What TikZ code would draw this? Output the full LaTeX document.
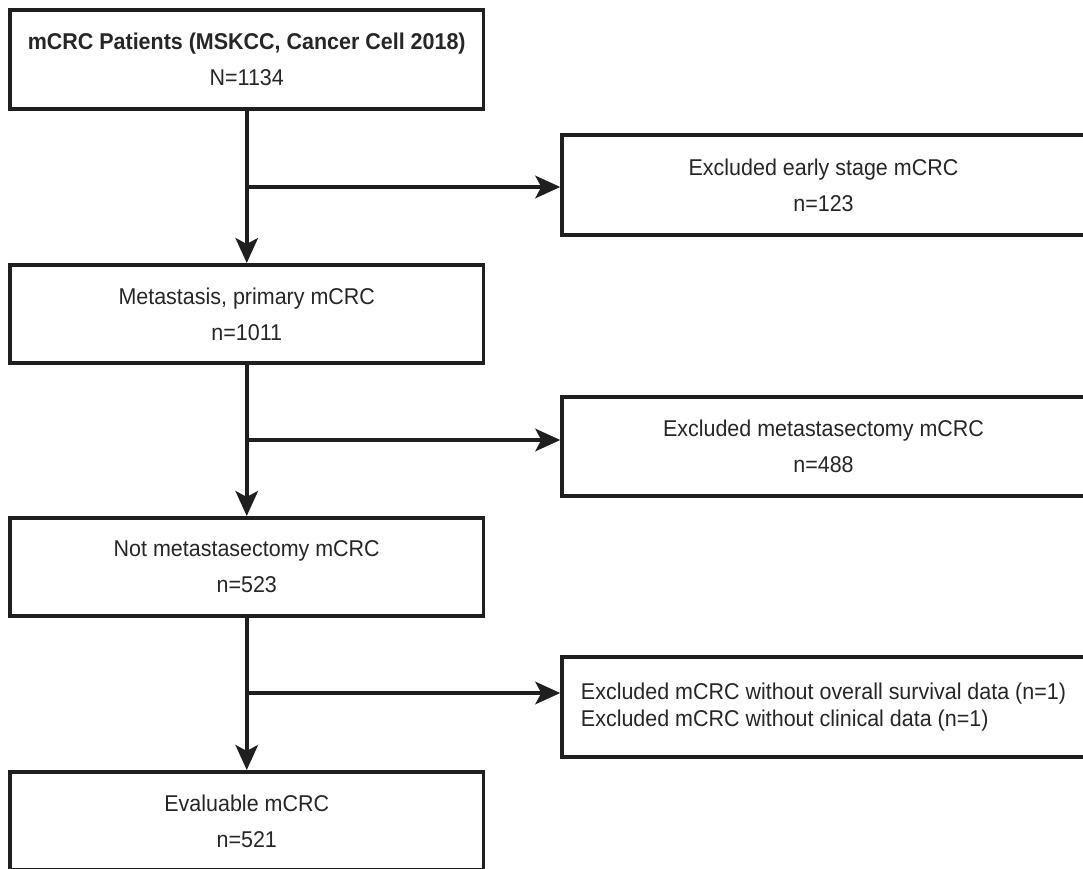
\documentclass[tikz,border=0pt]{standalone}
\usepackage{fontspec}
\setmainfont{Liberation Sans}[FakeStretch=0.94]
\usetikzlibrary{arrows.meta}

\begin{document}
\begin{tikzpicture}[x=0.02cm, y=-0.02cm, >={Stealth[length=0.5cm, width=0.45cm, inset=0.12cm]},
  flowbox/.style={draw=black!88, line width=2pt, text=black!85, align=center, inner sep=0pt,
    font=\fontsize{13pt}{20.5pt}\selectfont},
  leftbox/.style={flowbox, minimum width=9.48cm, minimum height=1.97cm},
  exbox/.style={flowbox, minimum width=10.46cm, minimum height=2cm},
  flowline/.style={draw=black!88, line width=2pt}]
\useasboundingbox (0,0) rectangle (1083,869);
\clip (0,0) rectangle (1083,869);
\node[leftbox, minimum height=1.98cm] (pat) at (246.75,59.5) {\textbf{mCRC Patients (MSKCC, Cancer Cell 2018)}\\N=1134};
\node[leftbox] (meta) at (246.75,314) {Metastasis, primary mCRC\\n=1011};
\node[leftbox] (notm) at (246.75,567) {Not metastasectomy mCRC\\n=523};
\node[leftbox] (eval) at (246.75,821) {Evaluable mCRC\\n=521};
\node[exbox] (ex1) at (823.5,185) {Excluded early stage mCRC\\n=123};
\node[exbox, minimum height=1.98cm] (ex2) at (823.5,446.5) {Excluded metastasectomy mCRC\\n=488};
\node[exbox, align=left, font=\fontsize{13pt}{15.6pt}\selectfont] (ex3) at (823.5,707)
  {Excluded mCRC without overall survival data (n=1)\\Excluded mCRC without clinical data (n=1)};
\coordinate (b1) at (247,187);
\coordinate (b2) at (247,440);
\coordinate (b3) at (247,693);
\draw[flowline, ->] (pat) -- (meta);
\draw[flowline, ->] (meta) -- (notm);
\draw[flowline, ->] (notm) -- (eval);
\draw[flowline, ->] (b1) -- (b1 -| ex1.west);
\draw[flowline, ->] (b2) -- (b2 -| ex2.west);
\draw[flowline, ->] (b3) -- (b3 -| ex3.west);
\end{tikzpicture}
\end{document}
